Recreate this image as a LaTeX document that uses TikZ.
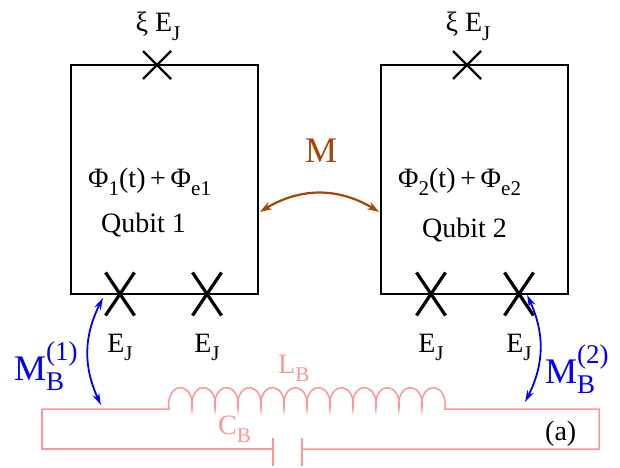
\documentclass[tikz,border=0pt]{standalone}
\usepackage{fontspec}
\setmainfont{Liberation Serif}
\usetikzlibrary{arrows.meta,bending}
\definecolor{brn}{RGB}{168,68,8}
\definecolor{pnk}{RGB}{255,150,150}
\newcommand\lo[1]{\raisebox{-0.3em}{\scalebox{0.75}{#1}}}
\newcommand\hi[1]{\raisebox{0.55em}{\scalebox{0.75}{#1}}}
\begin{document}
\begin{tikzpicture}[x=1pt,y=1pt,
  wire/.style={line width=1.5pt},
  jj/.style={line width=2.4pt},
  jjb/.style={line width=3.2pt},
  lbl/.style={inner sep=0pt,font=\fontsize{28}{30}\selectfont},
  biglbl/.style={inner sep=0pt,font=\fontsize{36}{40}\selectfont},
  circ/.style={pnk,line width=1.5pt},
  barr/.style={blue,line width=1.8pt,{Stealth[length=12pt,width=7pt,bend]}-{Stealth[length=12pt,width=7pt,bend]}},
  brarr/.style={brn,line width=2.2pt,{Stealth[length=12pt,width=8pt,bend]}-{Stealth[length=12pt,width=8pt,bend]}}]
\useasboundingbox (0,0) rectangle (620,467);
% qubit loops
\draw[wire] (71,173) rectangle (258,402);
\draw[wire] (381,173) rectangle (568,402);
% junctions
\coordinate (t1) at (157,402);
\coordinate (t2) at (467,402);
\foreach \c in {t1,t2}{
  \draw[jj] ([shift={(-14,-14)}]\c) -- ([shift={(14,14)}]\c);
  \draw[jj] ([shift={(-14,14)}]\c) -- ([shift={(14,-14)}]\c);
}
\coordinate (b1) at (120,173);
\coordinate (b2) at (207,173);
\coordinate (b3) at (431,173);
\coordinate (b4) at (519,173);
\foreach \c in {b1,b2,b3,b4}{
  \draw[jjb] ([shift={(-14.5,-21.5)}]\c) -- ([shift={(14.5,21.5)}]\c);
  \draw[jjb] ([shift={(-14.5,21.5)}]\c) -- ([shift={(14.5,-21.5)}]\c);
  \node[lbl,anchor=base] (ej\c) at ([yshift=-58]\c) {E\lo{J}};
}
\node[lbl,anchor=base] (xi1) at (158,435) {ξ E\lo{J}};
\node[lbl,anchor=base] (xi2) at (468,435) {ξ E\lo{J}};
\node[lbl,anchor=base west] (phi1) at (88,280) {Φ\lo{1}(t)\,+\,Φ\lo{e1}};
\node[lbl,anchor=base west] (q1) at (101,235) {Qubit 1};
\node[lbl,anchor=base west] (phi2) at (398,280) {Φ\lo{2}(t)\,+\,Φ\lo{e2}};
\node[lbl,anchor=base west] (q2) at (422,230) {Qubit 2};
% M coupling
\node[biglbl,brn,anchor=base] (M) at (321,305) {M};
\coordinate (m1) at (260,255);
\coordinate (m2) at (379,255);
\draw[brarr] (m1) to[bend left=34] (m2);
% circuit
\coordinate (cl) at (167,58);
\coordinate (cr) at (445,58);
\coordinate (tl) at (42,58);
\coordinate (tr) at (599,58);
\coordinate (br) at (599,18);
\coordinate (bl) at (42,18);
\coordinate (p1) at (273,18);
\coordinate (p2) at (302,18);
\draw[circ,line join=miter] (tl) -- (cl) -- (169,58)
  \foreach \i in {1,...,12}{ arc[start angle=195,end angle=-15,x radius=11.9,y radius=17] }
  -- (cr) -- (tr) -- (br) -- (p2);
\draw[circ] (p1) -- (bl) -- (tl);
\draw[circ] ([yshift=-17]p1) -- ([yshift=11]p1);
\draw[circ] ([yshift=-17]p2) -- ([yshift=11]p2);
\node[lbl,pnk,anchor=base west] (LB) at (278,94) {L\lo{B}};
\node[lbl,pnk,anchor=base west] (CB) at (218,33) {C\lo{B}};
\node[lbl,anchor=base west] (a) at (545,27) {(a)};
% bus couplings
\coordinate (u1) at (103,169);
\coordinate (d1) at (101,62);
\coordinate (u2) at (527,172);
\coordinate (d2) at (525,65);
\draw[barr] (u1) to[bend right=28] (d1);
\draw[barr] (u2) to[bend left=28] (d2);
\node[biglbl,blue,anchor=base west] (MB1) at (14,87) {M\rlap{\hi{(1)}}\lo{B}};
\node[biglbl,blue,anchor=base west] (MB2) at (545,84) {M\rlap{\hi{(2)}}\lo{B}};
\end{tikzpicture}
\end{document}
